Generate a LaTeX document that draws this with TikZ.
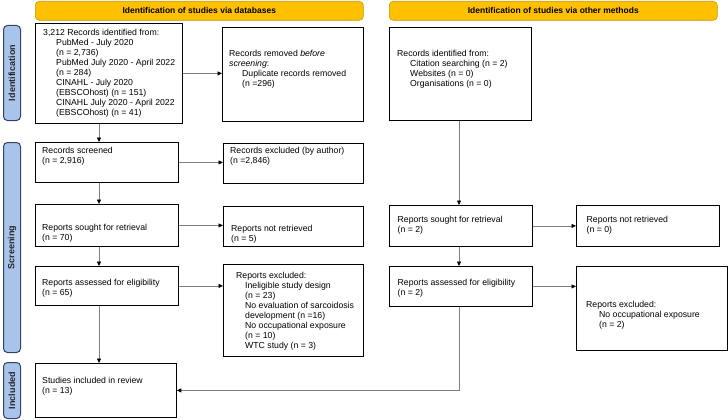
\documentclass[tikz,border=0pt]{standalone}
\usepackage{fontspec}
\setmainfont{Liberation Sans}
\usetikzlibrary{arrows.meta}
\definecolor{hdrfill}{HTML}{FFC000}
\definecolor{hdrline}{HTML}{C49A00}
\definecolor{sidefill}{HTML}{A9C4EB}
\definecolor{sideline}{HTML}{34445F}
\definecolor{conn}{HTML}{7F7F7F}
\newcommand\ind{\hspace*{13pt}}
\begin{document}
\begin{tikzpicture}[x=1pt,y=-1pt,
 box/.style={draw=black,line width=0.8pt,anchor=north west,inner sep=0pt},
 txt/.style={anchor=west,align=left,inner sep=0pt,font=\fontsize{8.7}{10}\selectfont},
 hdrbox/.style={draw=hdrline,fill=hdrfill,rounded corners=4pt,line width=0.6pt,anchor=north west,inner sep=0pt,font=\fontsize{8.5}{10}\selectfont\bfseries},
 sidebox/.style={draw=sideline,fill=sidefill,rounded corners=4pt,line width=1pt,anchor=north west,inner sep=0pt},
 sidetxt/.style={rotate=90,inner sep=0pt,font=\fontsize{9}{10}\selectfont\bfseries,text=black!85},
 arr/.style={draw=conn,line width=0.75pt,-{Triangle[length=4.5pt,width=4pt,color=black]}}]
\useasboundingbox (0,0) rectangle (728,420);
% headers
\node[hdrbox,minimum width=328,minimum height=19] (hl) at (35,1) {Identification of studies via databases};
\node[hdrbox,minimum width=328,minimum height=19] (hr) at (389,1) {Identification of studies via other methods};
% side labels
\node[sidebox,minimum width=17,minimum height=95] (sid) at (3,25) {};
\node[sidebox,minimum width=17,minimum height=210] (sscr) at (3,142) {};
\node[sidebox,minimum width=17,minimum height=56] (sinc) at (3,362) {};
\node[sidetxt] (sid-t) at (sid.center) {Identification};
\node[sidetxt] (sscr-t) at (sscr.center) {Screening};
\node[sidetxt] (sinc-t) at (sinc.center) {Included};
% boxes
\node[box,minimum width=147,minimum height=100] (b1) at (35,23) {};
\node[box,minimum width=141,minimum height=94] (rem) at (222,27) {};
\node[box,minimum width=142,minimum height=93] (oid) at (389,27) {};
\node[box,minimum width=143,minimum height=40] (scr) at (35,142) {};
\node[box,minimum width=140,minimum height=40] (exc) at (223,143) {};
\node[box,minimum width=143,minimum height=42] (sgt) at (35,204) {};
\node[box,minimum width=140,minimum height=40] (nrt) at (223,206) {};
\node[box,minimum width=143,minimum height=41] (osgt) at (389,205) {};
\node[box,minimum width=143,minimum height=41] (onrt) at (576,205) {};
\node[box,minimum width=143,minimum height=39] (ass) at (35,266) {};
\node[box,minimum width=140,minimum height=92] (aex) at (223,264) {};
\node[box,minimum width=143,minimum height=40] (oass) at (389,266) {};
\node[box,minimum width=151,minimum height=84] (oex) at (576,266) {};
\node[box,minimum width=141,minimum height=54] (inc) at (35,363) {};
% texts
\node[txt] (b1-t) at (43,73) {3,212 Records identified from:\\\ind PubMed - July 2020\\\ind (n = 2,736)\\\ind PubMed July 2020 - April 2022\\\ind (n = 284)\\\ind CINAHL - July 2020\\\ind (EBSCOhost) (n = 151)\\\ind CINAHL July 2020 - April 2022\\\ind (EBSCOhost) (n = 41)};
\node[txt] (rem-t) at (229,69) {Records removed \textit{before}\\\textit{screening}:\\\ind Duplicate records removed\\\ind (n =296)};
\node[txt] (oid-t) at (397,69) {Records identified from:\\\ind Citation searching (n = 2)\\\ind Websites (n = 0)\\\ind Organisations (n = 0)};
\node[txt] (scr-t) at (42,156) {Records screened\\(n = 2,916)};
\node[txt] (exc-t) at (230,156) {Records excluded (by author)\\(n =2,846)};
\node[txt] (sgt-t) at (42,233) {Reports sought for retrieval\\(n = 70)};
\node[txt] (nrt-t) at (231,234.5) {Reports not retrieved\\(n = 5)};
\node[txt] (osgt-t) at (397.5,225.5) {Reports sought for retrieval\\(n = 2)};
\node[txt] (onrt-t) at (586.5,225.5) {Reports not retrieved\\(n = 0)};
\node[txt] (ass-t) at (42,288.5) {Reports assessed for eligibility\\(n = 65)};
\node[txt] (aex-t) at (236,311) {Reports excluded:\\\hspace*{9pt}Ineligible study design\\\hspace*{9pt}(n = 23)\\\hspace*{9pt}No evaluation of sarcoidosis\\\hspace*{9pt}development (n =16)\\\hspace*{9pt}No occupational exposure\\\hspace*{9pt}(n = 10)\\\hspace*{9pt}WTC study (n = 3)};
\node[txt] (oass-t) at (397.5,288.5) {Reports assessed for eligibility\\(n = 2)};
\node[txt] (oex-t) at (586,315) {Reports excluded:\\\ind No occupational exposure\\\ind (n = 2)};
\node[txt] (inc-t) at (42,386) {Studies included in review\\(n = 13)};
% connectors
\coordinate (xl) at (99,0);
\coordinate (xr) at (459,0);
\draw[arr] (b1.south -| xl) -- (scr.north -| xl);
\draw[arr] (b1.east) -- (b1.east -| rem.west);
\draw[arr] (scr.east) -- (scr.east -| exc.west);
\draw[arr] (scr.south -| xl) -- (sgt.north -| xl);
\draw[arr] (sgt.east) -- (sgt.east -| nrt.west);
\draw[arr] (sgt.south -| xl) -- (ass.north -| xl);
\draw[arr] (ass.east) -- (ass.east -| aex.west);
\draw[arr] (ass.south -| xl) -- (inc.north -| xl);
\draw[arr] (oid.south -| xr) -- (osgt.north -| xr);
\draw[arr] (osgt.east) -- (osgt.east -| onrt.west);
\draw[arr] (osgt.south -| xr) -- (oass.north -| xr);
\draw[arr] (oass.east) -- (oass.east -| oex.west);
\draw[arr] (oass.south -| xr) |- (inc.east);
\end{tikzpicture}
\end{document}
